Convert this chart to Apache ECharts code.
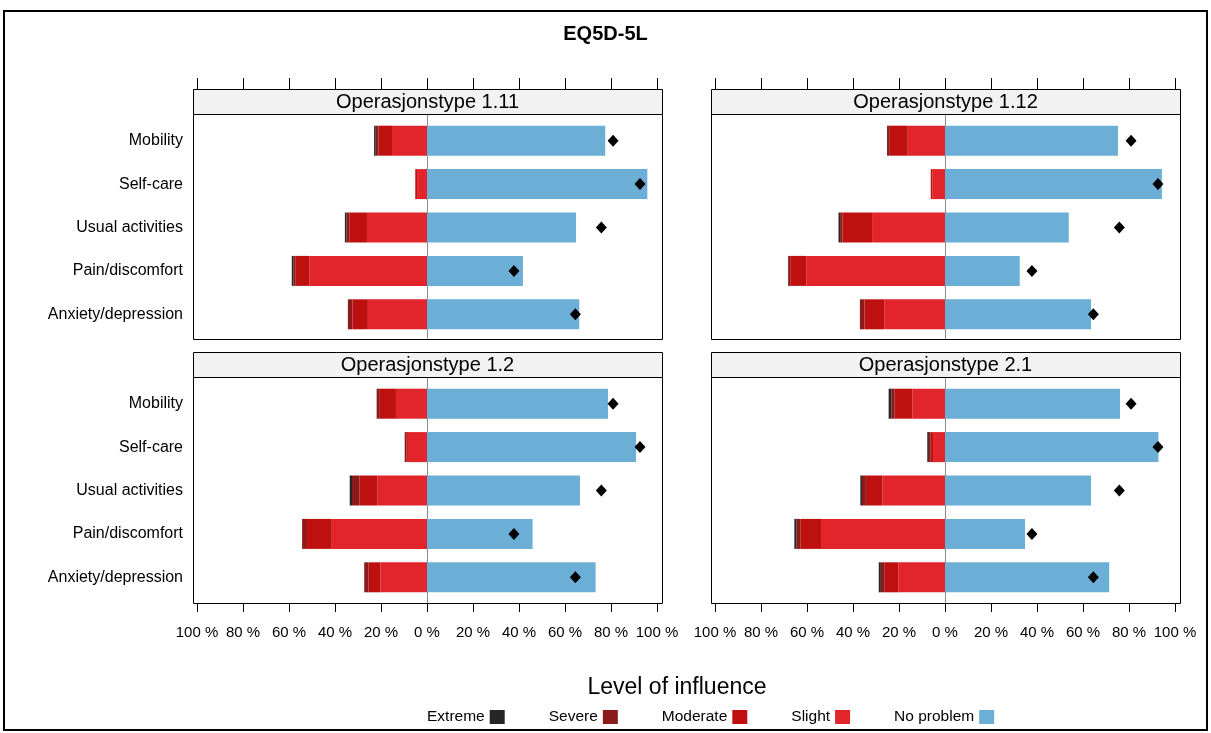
<!DOCTYPE html>
<html>
<head>
<meta charset="utf-8">
<script src="https://cdn.jsdelivr.net/npm/echarts@6/dist/echarts.min.js"></script>
<style>
  html, body { margin: 0; padding: 0; background: #fff; }
  #chart { width: 1211px; height: 733px; }
</style>
</head>
<body>
<div id="chart"></div>
<script>
// ---------------- DATA ----------------
const categories = ['Mobility', 'Self-care', 'Usual activities', 'Pain/discomfort', 'Anxiety/depression'];
const panelTitles = ['Operasjonstype 1.11', 'Operasjonstype 1.12', 'Operasjonstype 1.2', 'Operasjonstype 2.1'];
const levels = ['Extreme', 'Severe', 'Moderate', 'Slight', 'No problem'];
const tickValues = [-100, -80, -60, -40, -20, 0, 20, 40, 60, 80, 100];

// Operasjonstype 1.11 (percent)
const op111Extreme   = [0.7, 0.0, 0.7, 0.7, 0.0];
const op111Severe    = [1.2, 0.0, 1.2, 0.8, 2.0];
const op111Moderate  = [5.9, 0.8, 7.7, 6.1, 6.7];
const op111Slight    = [15.2, 4.3, 26.1, 51.2, 25.7];
const op111NoProblem = [77.5, 95.8, 64.8, 41.7, 66.2];

// Operasjonstype 1.12
const op112Extreme   = [0.0, 0.0, 0.7, 0.0, 0.0];
const op112Severe    = [1.2, 0.0, 1.0, 0.9, 2.0];
const op112Moderate  = [7.8, 0.8, 12.9, 7.0, 8.6];
const op112Slight    = [16.2, 5.4, 31.7, 60.3, 26.4];
const op112NoProblem = [75.2, 94.3, 53.8, 32.5, 63.5];

// Operasjonstype 1.2
const op12Extreme   = [0.0, 0.0, 1.0, 0.0, 0.0];
const op12Severe    = [1.4, 0.7, 3.2, 1.7, 1.9];
const op12Moderate  = [7.0, 0.7, 7.8, 11.2, 5.1];
const op12Slight    = [13.5, 8.3, 21.6, 41.4, 20.3];
const op12NoProblem = [78.7, 90.9, 66.5, 45.9, 73.3];

// Operasjonstype 2.1
const op21Extreme   = [1.2, 0.7, 0.7, 0.9, 0.9];
const op21Severe    = [1.4, 0.6, 1.7, 1.7, 1.7];
const op21Moderate  = [7.7, 1.2, 7.2, 9.0, 5.9];
const op21Slight    = [14.2, 5.2, 27.2, 53.9, 20.3];
const op21NoProblem = [76.1, 92.8, 63.5, 34.8, 71.4];

// Reference values (diamonds), same in every panel
const referenceNoProblem = [80.9, 92.6, 75.8, 37.8, 64.5];

// ---------------- STYLE / LAYOUT ----------------
const colors = {
  'Extreme': '#262626',
  'Severe': '#8B1A1A',
  'Moderate': '#BF1010',
  'Slight': '#E2242B',
  'No problem': '#6BAED6'
};
const FONT = 'Liberation Sans, Arial, sans-serif';

const panelData = [
  { Extreme: op111Extreme, Severe: op111Severe, Moderate: op111Moderate, Slight: op111Slight, 'No problem': op111NoProblem },
  { Extreme: op112Extreme, Severe: op112Severe, Moderate: op112Moderate, Slight: op112Slight, 'No problem': op112NoProblem },
  { Extreme: op12Extreme,  Severe: op12Severe,  Moderate: op12Moderate,  Slight: op12Slight,  'No problem': op12NoProblem },
  { Extreme: op21Extreme,  Severe: op21Severe,  Moderate: op21Moderate,  Slight: op21Slight,  'No problem': op21NoProblem }
];

// layout: border box of each panel, the tick range inside it
const cols = [ { bx: 193, tx: 197, w: 460 }, { bx: 711, tx: 715, w: 460 } ];
const BW = 469;
const rows = [
  { stripTop: 89,  plotTop: 114, plotH: 225, dataTop: 119, dataH: 217, isTop: true },
  { stripTop: 352, plotTop: 377, plotH: 226, dataTop: 382, dataH: 217, isTop: false }
];
const STRIP_H = 25;

const grids = [], xAxes = [], yAxes = [], series = [], graphics = [];

// outer frame
graphics.push({ type: 'rect', shape: { x: 4, y: 11, width: 1203, height: 719 },
  style: { fill: 'none', stroke: '#000', lineWidth: 2 }, z: 100 });

for (let p = 0; p < 4; p++) {
  const c = cols[p % 2], r = rows[Math.floor(p / 2)];
  grids.push({ left: c.tx, top: r.dataTop, width: c.w, height: r.dataH, containLabel: false });
}
for (let p = 0; p < 4; p++) {
  const c = cols[p % 2], r = rows[Math.floor(p / 2)];
  grids.push({ left: c.tx, top: r.plotTop, width: c.w, height: r.plotH, containLabel: false });
}

for (let p = 0; p < 4; p++) {
  const r = rows[Math.floor(p / 2)];
  const top = r.isTop;
  xAxes.push({
    type: 'value', gridIndex: p, min: -100, max: 100, interval: 20,
    position: top ? 'top' : 'bottom',
    offset: top ? (r.dataTop - r.stripTop) : (r.plotTop + r.plotH - (r.dataTop + r.dataH)),
    axisLine: { show: false },
    axisTick: { show: true, length: top ? 11 : 9, lineStyle: { color: '#000', width: 1 } },
    axisLabel: {
      show: !top, margin: 22, fontSize: 15, color: '#000', fontFamily: FONT,
      formatter: v => Math.abs(v) + ' %'
    },
    splitLine: { show: false }
  });
  yAxes.push({
    type: 'category', gridIndex: p, data: categories, inverse: true,
    axisLine: { show: false }, axisTick: { show: false }, splitLine: { show: false },
    axisLabel: { show: p % 2 === 0, margin: 14, fontSize: 16, color: '#000', fontFamily: FONT }
  });
}
for (let p = 0; p < 4; p++) {
  xAxes.push({ type: 'value', gridIndex: 4 + p, min: -100, max: 100, show: false });
  yAxes.push({
    type: 'value', gridIndex: 4 + p, min: 0, max: 1,
    axisLine: { show: true, onZero: true, lineStyle: { color: '#8c8c8c', width: 1 } },
    axisTick: { show: false }, axisLabel: { show: false }, splitLine: { show: false }
  });
}

// series
for (let p = 0; p < 4; p++) {
  const d = panelData[p];
  ['Slight', 'Moderate', 'Severe', 'Extreme'].forEach(lv => {
    series.push({
      name: lv, type: 'bar', xAxisIndex: p, yAxisIndex: p, stack: 'panel' + p,
      barWidth: 30, itemStyle: { color: colors[lv] }, z: 3,
      data: d[lv].map(v => -v)
    });
  });
  series.push({
    name: 'No problem', type: 'bar', xAxisIndex: p, yAxisIndex: p, stack: 'panel' + p,
    barWidth: 30, itemStyle: { color: colors['No problem'] }, z: 3,
    data: d['No problem'].slice()
  });
  series.push({
    name: 'Reference', type: 'scatter', xAxisIndex: p, yAxisIndex: p,
    symbol: 'diamond', symbolSize: [11, 12], itemStyle: { color: '#000', opacity: 1 }, z: 5,
    data: referenceNoProblem.map((v, i) => [v, categories[i]])
  });
}

// panel borders and strips
for (let p = 0; p < 4; p++) {
  const c = cols[p % 2], r = rows[Math.floor(p / 2)];
  graphics.push({ type: 'rect', shape: { x: c.bx + 0.5, y: r.plotTop + 0.5, width: BW, height: r.plotH },
    style: { fill: 'none', stroke: '#000', lineWidth: 1 }, z: 50 });
  graphics.push({ type: 'rect', shape: { x: c.bx + 0.5, y: r.stripTop + 0.5, width: BW, height: STRIP_H },
    style: { fill: '#F2F2F2', stroke: '#000', lineWidth: 1 }, z: 50 });
  graphics.push({ type: 'text', x: c.bx + BW / 2, y: r.stripTop + STRIP_H / 2 + 1, z: 51,
    style: { text: panelTitles[p], fontSize: 20, fontFamily: FONT, fill: '#000',
      textAlign: 'center', textVerticalAlign: 'middle' } });
}

const option = {
  backgroundColor: '#fff',
  animation: false,
  title: [
    { text: 'EQ5D-5L', left: 'center', top: 19,
      textStyle: { fontSize: 20, fontWeight: 'bold', color: '#000', fontFamily: 'Liberation Sans Narrow, Arial Narrow, Liberation Sans, sans-serif' } },
    { text: 'Level of influence', left: 672, top: 671, textAlign: 'center',
      textStyle: { fontSize: 23, fontWeight: 'normal', color: '#000', fontFamily: FONT } }
  ],
  legend: {
    data: levels, left: 422, top: 704, orient: 'horizontal', align: 'right',
    itemWidth: 15, itemHeight: 14, itemGap: 44, icon: 'rect',
    textStyle: { fontSize: 15.5, color: '#000', fontFamily: FONT }
  },
  grid: grids,
  xAxis: xAxes,
  yAxis: yAxes,
  series: series,
  graphic: graphics
};

const chart = echarts.init(document.getElementById('chart'), null, { renderer: 'canvas' });
chart.setOption(option);
</script>
</body>
</html>
